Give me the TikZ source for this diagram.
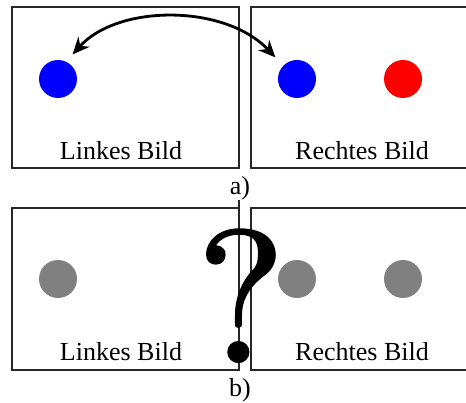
\documentclass[tikz,border=0pt]{standalone}
\usepackage{fontspec}
\newfontfamily\tnr{Liberation Serif}
\newfontfamily\qfont{lmroman10-regular}[Extension=.otf,FakeBold=1.2]
\usetikzlibrary{arrows.meta}
\begin{document}
\begin{tikzpicture}[x=1pt,y=-1pt,
  frame/.style={draw=black!85,line width=1.3pt},
  dot/.style={circle,inner sep=0pt,minimum size=38pt},
  lab/.style={font=\tnr\fontsize{26}{26}\selectfont,inner sep=0pt,anchor=base},
  link/.style={line width=2.8pt,{Stealth[length=17pt,width=15pt]}-{Stealth[length=17pt,width=15pt]}}]
\useasboundingbox (0,0) rectangle (466,403);
\clip (0,0) rectangle (466,403);
% top row
\draw[frame] (12,7) rectangle (239,168);
\draw[frame] (251,7) rectangle (480,168);
\node[dot,fill=blue] (lb) at (58,79) {};
\node[dot,fill=blue] (rb) at (297,79) {};
\node[dot,fill=red] (rr) at (403,79) {};
\node[lab] (ll) at (121,160) {Linkes Bild};
\node[lab] (rl) at (362,160) {Rechtes Bild};
\node[lab] (ca) at (240,195) {a)};
\coordinate (s) at ([xshift=1pt,yshift=11pt]lb.north east);
\coordinate (e) at ([xshift=-8pt,yshift=8pt]rb.north west);
\draw[link] (s) .. controls (118,4) and (225,4) .. (e);
% bottom row
\draw[frame] (12,208) rectangle (239,370);
\draw[frame] (239,200) -- (239,208);
\draw[frame] (251,208) rectangle (480,370);
\node[dot,fill=gray] (lg) at (58,279) {};
\node[dot,fill=gray] (rg1) at (297,279) {};
\node[dot,fill=gray] (rg2) at (403,279) {};
\node[lab] (ll2) at (121,361) {Linkes Bild};
\node[lab] (rl2) at (362,361) {Rechtes Bild};
\node[lab] (cb) at (240,396) {b)};
\node[inner sep=0pt,anchor=base,font=\qfont\fontsize{188}{188}\selectfont] (q) at (241,362) {?};
\end{tikzpicture}
\end{document}
